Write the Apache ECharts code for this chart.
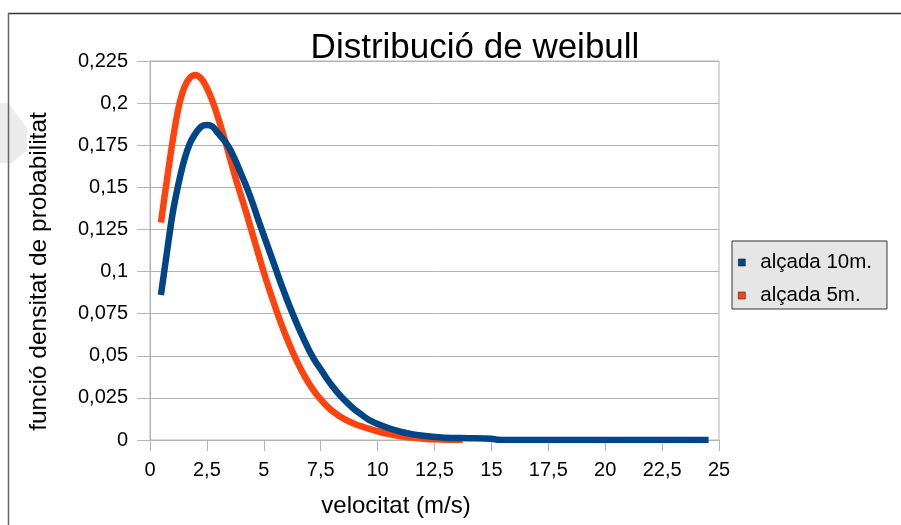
<!DOCTYPE html>
<html>
<head>
<meta charset="utf-8">
<script src="https://cdn.jsdelivr.net/npm/echarts@6/dist/echarts.min.js"></script>
<style>
  html, body { margin: 0; padding: 0; background: #ffffff; }
  #chart { width: 901px; height: 525px; }
</style>
</head>
<body>
<div id="chart"></div>
<script>
// Wind speed (m/s) and Weibull probability density, 10 m height
const speed10 = [0.5, 0.75, 1.0, 1.25, 1.5, 1.75, 2.0, 2.25, 2.5, 2.75, 3.0, 3.25, 3.5, 3.75,
  4.0, 4.25, 4.5, 4.75, 5.0, 5.25, 5.5, 5.75, 6.0, 6.25, 6.5, 6.75, 7.0, 7.25, 7.5, 7.75,
  8.0, 8.25, 8.5, 8.75, 9.0, 9.25, 9.5, 9.75, 10.0, 10.5, 11.0, 11.5, 12.0, 12.5, 13.0,
  14.0, 15.0, 15.25, 16.0, 18.0, 20.0, 22.0, 24.4];
const density10 = [0.088, 0.112, 0.135, 0.152, 0.166, 0.176, 0.182, 0.186, 0.187, 0.186,
  0.182, 0.178, 0.173, 0.166, 0.158, 0.150, 0.141, 0.131, 0.1215, 0.112, 0.1025, 0.093,
  0.084, 0.0755, 0.0675, 0.060, 0.053, 0.047, 0.042, 0.0368, 0.0322, 0.028, 0.0243, 0.021,
  0.018, 0.0155, 0.013, 0.011, 0.0095, 0.007, 0.005, 0.0035, 0.0025, 0.0018, 0.0013,
  0.0011, 0.0008, 0.0001, 0, 0, 0, 0, 0];

// Wind speed (m/s) and Weibull probability density, 5 m height
const speed5 = [0.5, 0.75, 1.0, 1.25, 1.5, 1.75, 2.0, 2.25, 2.5, 2.75, 3.0, 3.25, 3.5, 3.75,
  4.0, 4.25, 4.5, 4.75, 5.0, 5.25, 5.5, 5.75, 6.0, 6.25, 6.5, 6.75, 7.0, 7.25, 7.5, 7.75,
  8.0, 8.5, 9.0, 9.5, 10.0, 10.5, 11.0, 11.5, 12.0, 12.5, 13.0, 13.6];
const density5 = [0.131, 0.155, 0.178, 0.197, 0.209, 0.215, 0.2167, 0.2145, 0.209, 0.201,
  0.191, 0.180, 0.168, 0.156, 0.145, 0.134, 0.1225, 0.111, 0.0995, 0.089, 0.079, 0.0695,
  0.0608, 0.0528, 0.0455, 0.039, 0.0333, 0.0283, 0.0241, 0.0204, 0.0173, 0.0127, 0.0095, 0.0072,
  0.0052, 0.0035, 0.0022, 0.0014, 0.0008, 0.0004, 0.0002, 0.0001];

const seriesNames = ['alçada 10m.', 'alçada 5m.'];
const seriesColors = ['#004586', '#ff420e'];

const FONT = 'Liberation Sans, Arial, sans-serif';
const GRID_GRAY = '#b3b3b3';

function pairs(xs, ys) { return xs.map((x, i) => [x, ys[i]]); }
function comma(v) { return String(parseFloat(Number(v).toFixed(3))).replace('.', ','); }

const chart = echarts.init(document.getElementById('chart'), null, { renderer: 'canvas' });

chart.setOption({
  backgroundColor: '#ffffff',
  animation: false,
  textStyle: { fontFamily: FONT },
  title: {
    text: 'Distribució de weibull',
    left: 470,
    top: 26,
    textAlign: 'center',
    textStyle: { fontFamily: FONT, fontSize: 35, fontWeight: 'normal', color: '#000' }
  },
  grid: {
    left: 150, right: 182, top: 61, bottom: 85,
    show: true, borderColor: GRID_GRAY, borderWidth: 1, backgroundColor: 'transparent'
  },
  legend: {
    orient: 'vertical',
    left: 732, top: 241,
    data: seriesNames,
    icon: 'rect',
    itemWidth: 7, itemHeight: 7,
    itemGap: 12,
    padding: [11, 15, 3, 6],
    backgroundColor: '#e6e6e6',
    borderColor: '#333333',
    borderWidth: 1,
    borderRadius: 0,
    itemStyle: { borderColor: '#222', borderWidth: 0.6 },
    textStyle: { fontFamily: FONT, fontSize: 20.5, color: '#000', padding: [0, 0, 0, 10] }
  },
  xAxis: {
    type: 'value', min: 0, max: 25, interval: 2.5,
    name: 'velocitat (m/s)', nameLocation: 'middle', nameGap: 54,
    nameTextStyle: { fontFamily: FONT, fontSize: 24, color: '#000', padding: [0, 77, 0, 0] },
    axisLine: { show: true, lineStyle: { color: GRID_GRAY, width: 1 } },
    axisTick: { show: true, inside: false, length: 11, lineStyle: { color: GRID_GRAY } },
    axisLabel: { fontFamily: FONT, fontSize: 20, color: '#000', margin: 20, formatter: comma },
    splitLine: { show: false }
  },
  yAxis: {
    type: 'value', min: 0, max: 0.225, interval: 0.025,
    name: 'funció densitat de probabilitat', nameLocation: 'middle', nameGap: 98,
    nameTextStyle: { fontFamily: FONT, fontSize: 24.5, color: '#000', padding: [0, 42, 0, 0] },
    axisLine: { show: true, lineStyle: { color: GRID_GRAY, width: 1 } },
    axisTick: { show: true, inside: false, length: 13, lineStyle: { color: GRID_GRAY } },
    axisLabel: { fontFamily: FONT, fontSize: 20, color: '#000', margin: 22, formatter: comma },
    splitLine: { show: true, lineStyle: { color: GRID_GRAY, width: 1 } }
  },
  graphic: [
    // faint decorative shape at the left page edge
    { type: 'polygon', z: -1, silent: true,
      shape: { points: [[0, 103], [8, 103], [27, 128], [27, 150], [12, 163], [0, 163]] },
      style: { fill: '#ececec' } },
    // outer frame of the chart page
    { type: 'line', shape: { x1: 8, y1: 13.5, x2: 901, y2: 13.5 }, style: { stroke: '#333', lineWidth: 1.5 }, silent: true },
    { type: 'line', shape: { x1: 8.5, y1: 13, x2: 8.5, y2: 525 }, style: { stroke: '#666', lineWidth: 1.5 }, silent: true }
  ],
  series: [
    {
      name: seriesNames[1], type: 'line', data: pairs(speed5, density5),
      showSymbol: false, smooth: 0.3, color: seriesColors[1], z: 2,
      lineStyle: { width: 6.5, color: seriesColors[1], cap: 'square', join: 'round' }
    },
    {
      name: seriesNames[0], type: 'line', data: pairs(speed10, density10),
      showSymbol: false, smooth: 0.3, color: seriesColors[0], z: 3,
      lineStyle: { width: 6.5, color: seriesColors[0], cap: 'square', join: 'round' }
    }
  ]
});
</script>
</body>
</html>
